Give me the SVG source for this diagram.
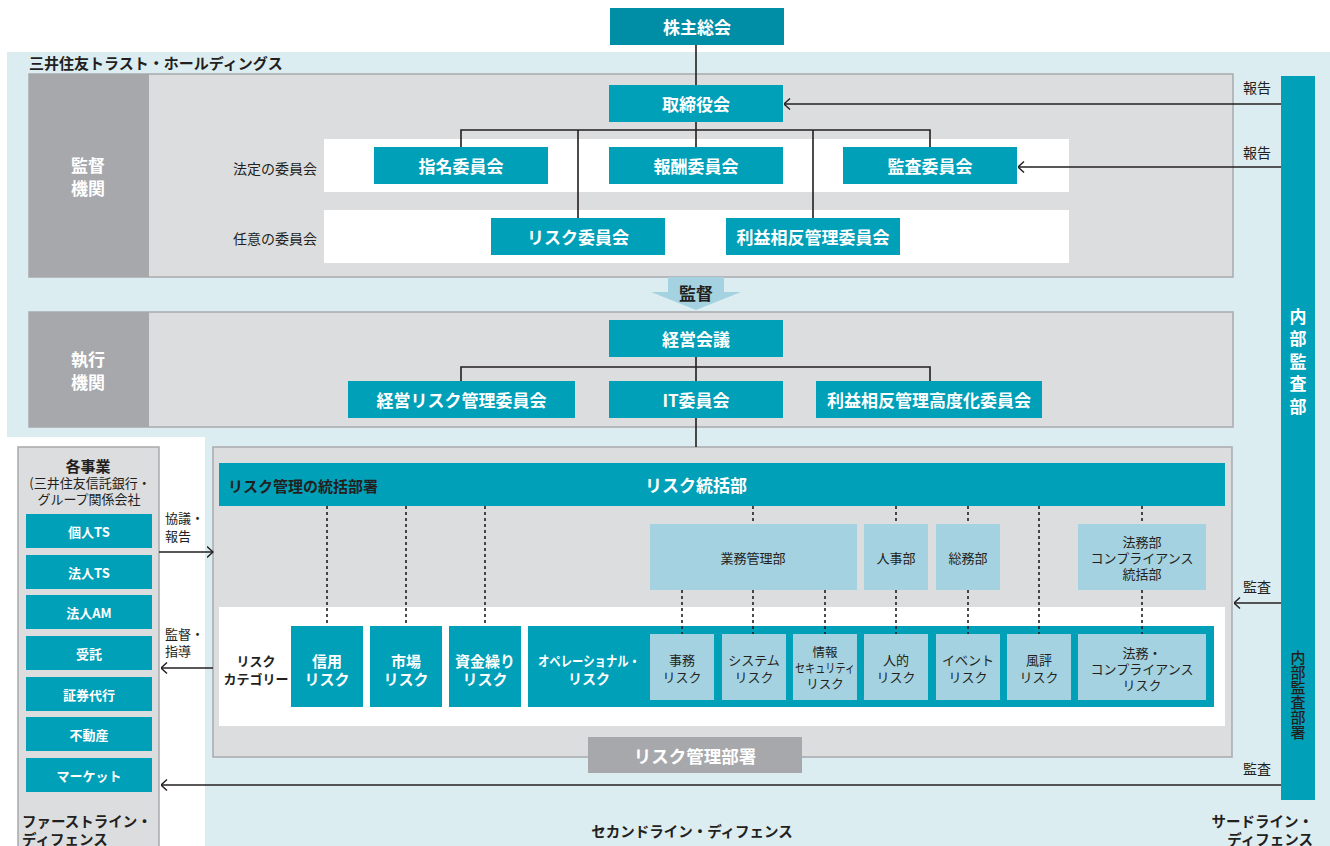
<svg xmlns="http://www.w3.org/2000/svg" width="1330" height="846" viewBox="0 0 1330 846">
<defs>
<style>
text{font-family:"Noto Sans CJK JP","Noto Sans",sans-serif;dominant-baseline:central;text-anchor:middle}
.tb{fill:#00A0B9}
.dk{fill:#008DA6}
.lb{fill:#A4D2E0}
.gp{fill:#DCDDDF;stroke:#A7A9AC;stroke-width:1.5}
.dg{fill:#A7A8AB}
.w{fill:#fff;font-weight:700}
.d{fill:#231F20}
.b{font-weight:700}
.f17{font-size:17px}
.f15{font-size:15px}
.f14{font-size:14px}
.f13{font-size:13px}
.vt{writing-mode:vertical-rl;text-anchor:start}
.st{text-anchor:start}
.ln{stroke:#231F20;stroke-width:1.6;fill:none}
.ar{stroke:#231F20;stroke-width:1.6;fill:none;marker-end:url(#chev)}
.dot{stroke:#231F20;stroke-width:1.6;stroke-dasharray:3 3;fill:none}
</style>
<marker id="chev" viewBox="0 0 7 12" refX="6.5" refY="6" markerWidth="7" markerHeight="12" markerUnits="userSpaceOnUse" orient="auto">
<path d="M0.5,0.5 L6.5,6 L0.5,11.5" fill="none" stroke="#231F20" stroke-width="1.4"/>
</marker>
</defs>
<rect width="1330" height="846" fill="#fff"/>
<path d="M7,52 H1330 V846 H205 V437 H7 Z" fill="#DCEDF2"/>
<text x="29" y="62" class="d b st" font-size="15">三井住友トラスト・ホールディングス</text>

<g id="supervisory-panel">
<rect x="29" y="74" width="1204" height="203" class="gp"/>
<rect x="29" y="74" width="120" height="203" class="dg"/>
<text x="88" y="164" class="w f17">監督<tspan x="88" dy="23">機関</tspan></text>
<rect x="324" y="139" width="745" height="53" fill="#fff"/>
<rect x="324" y="210" width="745" height="53" fill="#fff"/>
<text x="317" y="168" class="d f14" style="text-anchor:end">法定の委員会</text>
<text x="317" y="238" class="d f14" style="text-anchor:end">任意の委員会</text>
</g>

<g id="execution-panel">
<rect x="29" y="312" width="1204" height="115" class="gp"/>
<rect x="29" y="312" width="120" height="115" class="dg"/>
<text x="88" y="358" class="w f17">執行<tspan x="88" dy="23">機関</tspan></text>
</g>

<g id="oversight-arrow">
<polygon points="668,277 724,277 724,292 741,292 696,310 651,292 668,292" class="lb"/>
<text x="696" y="292" class="d b f17">監督</text>
</g>

<g id="shareholders"><rect x="610" y="8" width="174" height="37" class="dk"/><text x="697" y="26.5" class="w f17">株主総会</text></g>
<g id="board"><rect x="609" y="85" width="174" height="37" class="tb"/><text x="696" y="103.5" class="w f17">取締役会</text></g>
<g id="nomination"><rect x="374" y="147" width="174" height="37" class="tb"/><text x="461" y="165.5" class="w f17">指名委員会</text></g>
<g id="compensation"><rect x="609" y="147" width="174" height="37" class="tb"/><text x="696" y="165.5" class="w f17">報酬委員会</text></g>
<g id="audit-committee"><rect x="843" y="147" width="174" height="37" class="tb"/><text x="930" y="165.5" class="w f17">監査委員会</text></g>
<g id="risk-committee"><rect x="491" y="218" width="174" height="37" class="tb"/><text x="578" y="236.5" class="w f17">リスク委員会</text></g>
<g id="coi-committee"><rect x="726" y="218" width="174" height="37" class="tb"/><text x="813" y="236.5" class="w f17">利益相反管理委員会</text></g>

<g id="management-meeting"><rect x="609" y="320" width="174" height="37" class="tb"/><text x="696" y="338.5" class="w f17">経営会議</text></g>
<g id="erm-committee"><rect x="348" y="381" width="227" height="37" class="tb"/><text x="461.5" y="399.5" class="w f17">経営リスク管理委員会</text></g>
<g id="it-committee"><rect x="609" y="381" width="174" height="37" class="tb"/><text x="696" y="399.5" class="w f17">IT委員会</text></g>
<g id="coi-advanced"><rect x="816" y="381" width="226" height="37" class="tb"/><text x="929" y="399.5" class="w f17">利益相反管理高度化委員会</text></g>

<g id="internal-audit">
<rect x="1281" y="76" width="34" height="724" class="tb"/>
<text x="1298" y="308" class="w f17 vt" letter-spacing="5.5">内部監査部</text>
<text x="1298" y="650" class="d f15 vt" font-weight="500">内部監査部署</text>
</g>

<g id="business-lines">
<rect x="18" y="447" width="141" height="405" class="gp"/>
<text x="88" y="465" class="d b f15">各事業<tspan x="90" dy="17" class="f13" font-weight="400">(三井住友信託銀行・</tspan><tspan x="89" dy="16" class="f13" font-weight="400">グループ関係会社</tspan></text>
<rect x="26" y="514" width="126" height="34" class="tb"/><text x="89" y="531" class="w f13">個人TS</text>
<rect x="26" y="555" width="126" height="34" class="tb"/><text x="89" y="572" class="w f13">法人TS</text>
<rect x="26" y="595" width="126" height="34" class="tb"/><text x="89" y="612" class="w f13">法人AM</text>
<rect x="26" y="636" width="126" height="34" class="tb"/><text x="89" y="653" class="w f13">受託</text>
<rect x="26" y="677" width="126" height="34" class="tb"/><text x="89" y="694" class="w f13">証券代行</text>
<rect x="26" y="717" width="126" height="34" class="tb"/><text x="89" y="734" class="w f13">不動産</text>
<rect x="26" y="758" width="126" height="34" class="tb"/><text x="89" y="775" class="w f13">マーケット</text>
<text x="22" y="820" class="d b st" font-size="14.5">ファーストライン・<tspan x="22" dy="18">ディフェンス</tspan></text>
</g>

<g id="risk-panel">
<rect x="213" y="447" width="1019" height="310" class="gp"/>
<rect x="219" y="463" width="1006" height="43" class="tb"/>
<text x="228" y="485" class="d b f15 st">リスク管理の統括部署</text>
<text x="696" y="484" class="w f17">リスク統括部</text>
<rect x="219" y="607" width="1006" height="119" fill="#fff"/>
<text x="256" y="660" class="d b f13">リスク<tspan x="256" dy="18">カテゴリー</tspan></text>
</g>

<g id="credit-risk"><rect x="291" y="626" width="72" height="81" class="tb"/><text x="327" y="660" class="w f15">信用<tspan x="327" dy="18">リスク</tspan></text></g>
<g id="market-risk"><rect x="370" y="626" width="72" height="81" class="tb"/><text x="406" y="660" class="w f15">市場<tspan x="406" dy="18">リスク</tspan></text></g>
<g id="liquidity-risk"><rect x="449" y="626" width="72" height="81" class="tb"/><text x="485" y="660" class="w f15">資金繰り<tspan x="485" dy="18">リスク</tspan></text></g>
<g id="operational-risk">
<rect x="528" y="626" width="686" height="81" class="tb"/>
<text x="589" y="660" class="w f14"><tspan textLength="102" lengthAdjust="spacingAndGlyphs">オペレーショナル・</tspan><tspan x="589" dy="18">リスク</tspan></text>
</g>
<g id="admin-risk"><rect x="650" y="634" width="64" height="66" class="lb"/><text x="682" y="659" class="d f13">事務<tspan x="682" dy="17">リスク</tspan></text></g>
<g id="system-risk"><rect x="722" y="634" width="64" height="66" class="lb"/><text x="754" y="659" class="d f13">システム<tspan x="754" dy="17">リスク</tspan></text></g>
<g id="infosec-risk"><rect x="793" y="634" width="64" height="66" class="lb"/><text x="825" y="651" class="d" font-size="12.5">情報<tspan x="825" dy="16" textLength="60" lengthAdjust="spacingAndGlyphs">セキュリティ</tspan><tspan x="825" dy="16">リスク</tspan></text></g>
<g id="human-risk"><rect x="864" y="634" width="64" height="66" class="lb"/><text x="896" y="659" class="d f13">人的<tspan x="896" dy="17">リスク</tspan></text></g>
<g id="event-risk"><rect x="936" y="634" width="64" height="66" class="lb"/><text x="968" y="659" class="d f13">イベント<tspan x="968" dy="17">リスク</tspan></text></g>
<g id="reputation-risk"><rect x="1007" y="634" width="64" height="66" class="lb"/><text x="1039" y="659" class="d f13">風評<tspan x="1039" dy="17">リスク</tspan></text></g>
<g id="legal-risk"><rect x="1078" y="634" width="128" height="66" class="lb"/><text x="1142" y="652" class="d f13">法務・<tspan x="1142" dy="16">コンプライアンス</tspan><tspan x="1142" dy="16">リスク</tspan></text></g>

<g id="ops-dept"><rect x="650" y="524" width="207" height="66" class="lb"/><text x="753" y="557" class="d f13">業務管理部</text></g>
<g id="hr-dept"><rect x="864" y="524" width="64" height="66" class="lb"/><text x="896" y="557" class="d f13">人事部</text></g>
<g id="ga-dept"><rect x="936" y="524" width="64" height="66" class="lb"/><text x="968" y="557" class="d f13">総務部</text></g>
<g id="legal-dept"><rect x="1078" y="524" width="128" height="66" class="lb"/><text x="1142" y="541" class="d f13">法務部<tspan x="1142" dy="16">コンプライアンス</tspan><tspan x="1142" dy="16">統括部</tspan></text></g>

<g id="risk-mgmt-units"><rect x="588" y="737" width="214" height="36" class="dg"/><text x="695" y="755" class="w" font-size="17.5">リスク管理部署</text></g>

<g id="connectors">
<path class="ln" d="M696,45 V85"/>
<path class="ln" d="M461,147 V130 H930 V147 M696,122 V147 M578,130 V218 M813,130 V218"/>
<path class="ln" d="M461,381 V367 H930 V381 M696,357 V381 M696,418 V447"/>
<path class="ar" d="M1281,104 H784"/>
<path class="ar" d="M1281,167 H1018"/>
<path class="ar" d="M1281,603 H1234"/>
<path class="ar" d="M1281,785 H161"/>
<path class="ar" d="M159,552 H213"/>
<path class="ar" d="M213,668 H161"/>
<path class="dot" d="M327,506 V626 M406,506 V626 M485,506 V626"/>
<path class="dot" d="M753,506 V524 M896,506 V524 M968,506 V524 M1142,506 V524"/>
<path class="dot" d="M682,590 V634 M753,590 V634 M825,590 V634 M896,590 V634 M968,590 V634 M1142,590 V634 M1039,506 V634"/>
</g>

<g id="labels">
<text x="1257" y="87" class="d f14">報告</text>
<text x="1257" y="152" class="d f14">報告</text>
<text x="1257" y="586" class="d f14">監査</text>
<text x="1257" y="768" class="d f14">監査</text>
<text x="165" y="517" class="d f13 st">協議・<tspan x="165" dy="18">報告</tspan></text>
<text x="165" y="633" class="d f13 st">監督・<tspan x="165" dy="17">指導</tspan></text>
<text x="692" y="830" class="d b" font-size="14.5">セカンドライン・ディフェンス</text>
<text x="1313" y="820" class="d b" font-size="14.5" style="text-anchor:end">サードライン・<tspan x="1313" dy="18">ディフェンス</tspan></text>
</g>
</svg>
